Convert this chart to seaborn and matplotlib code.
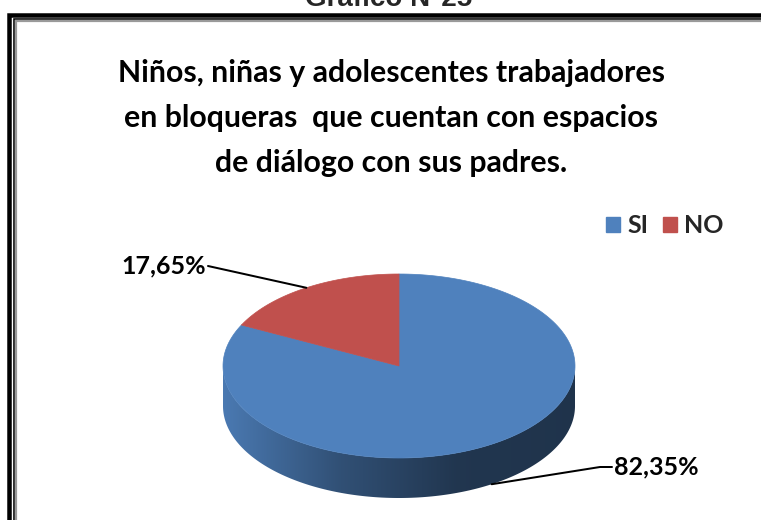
import numpy as np
import matplotlib
matplotlib.use("Agg")
import matplotlib.pyplot as plt
from matplotlib.patches import Polygon, Patch
import seaborn as sns

# Datos del gráfico
categorias = ["SI", "NO"]
porcentajes = [82.35, 17.65]
etiquetas = ["82,35%", "17,65%"]
colores = ["#4F81BD", "#C0504D"]

titulo = ["Niños, niñas y adolescentes trabajadores",
          "en bloqueras  que cuentan con espacios",
          "de diálogo con sus padres."]

sns.set_theme(style="white")
plt.rcParams["font.family"] = ["Lato", "DejaVu Sans"]

W, H = 761, 520
fig = plt.figure(figsize=(W / 100, H / 100), dpi=100)
ax = fig.add_axes([0, 0, 1, 1])
ax.set_xlim(0, W)
ax.set_ylim(H, 0)
ax.axis("off")

px = 0.72  # 1 pixel en puntos

# Marco doble del documento
ax.plot([8.5, 8.5, W + 5], [H + 5, 15, 15], color="black", lw=4.5 * px,
        solid_joinstyle="miter")
ax.plot([14, 14, W + 5], [H + 5, 19, 19], color="black", lw=1.6 * px,
        solid_joinstyle="miter")
ax.plot([16.3, 16.3, W + 5], [H + 5, 21.3, 21.3], color="#9a9a9a", lw=2.2 * px,
        solid_joinstyle="miter")

# Encabezado cortado arriba
ax.text(389, 6, "Gráfico N°25", ha="center", va="baseline", fontsize=20,
        fontweight="bold", family=["Liberation Sans", "DejaVu Sans"])

# Título
for i, linea in enumerate(titulo):
    ax.text(391, 82 + 45 * i, linea, ha="center", va="baseline",
            fontsize=21.8, fontweight="bold", color="black")

# Geometría del pastel 3D
cx, cy, a, b, prof = 399, 366, 176, 92, 40


def borde(t):
    return cx + a * np.cos(t), cy - b * np.sin(t)


frac = np.array(porcentajes) / sum(porcentajes)
limites = np.radians(90 - np.concatenate([[0], np.cumsum(frac) * 360]))

# Lateral (parte frontal visible, toda de la porción SI) con degradado
ts = np.linspace(np.pi, 2 * np.pi, 300)
xs, ys = borde(ts)
lateral = list(zip(xs, ys)) + list(zip(xs[::-1], ys[::-1] + prof))
clip = Polygon(lateral, closed=True, facecolor="none", edgecolor="none")
ax.add_patch(clip)
base = np.array(matplotlib.colors.to_rgb(colores[0]))
grad = np.array(sns.blend_palette([base * 0.94, base * 0.62, base * 0.42,
                                   base * 0.40], 256))
img = ax.imshow(grad[np.newaxis, :, :], extent=(cx - a, cx + a, cy + b + prof, cy - b),
                aspect="auto", interpolation="bilinear", zorder=1)
img.set_clip_path(clip)
ax.set_xlim(0, W)
ax.set_ylim(H, 0)

# Cara superior
for j in range(len(frac)):
    t = np.linspace(limites[j], limites[j + 1], 200)
    ex, ey = borde(t)
    pts = [(cx, cy)] + list(zip(ex, ey))
    ax.add_patch(Polygon(pts, closed=True, facecolor=colores[j],
                         edgecolor=colores[j], lw=0.5, zorder=2))

# Etiquetas con líneas guía
pos_texto = {"SI": (614, 467, "left"), "NO": (206, 266, "right")}
for j, cat in enumerate(categorias):
    tm = (limites[j] + limites[j + 1]) / 2
    xa, ya = borde(tm)
    if np.sin(tm) < 0:
        ya += prof
    tx, ty, ha = pos_texto[cat]
    if ha == "left":
        linea = [(xa, ya), (tx - 14, ty), (tx - 2, ty)]
    else:
        linea = [(xa, ya), (tx + 2, ty)]
    lx, ly = zip(*linea)
    ax.plot(lx, ly, color="black", lw=2 * px, zorder=3)
    ax.text(tx, ty, etiquetas[j], ha=ha, va="center", fontsize=18,
            fontweight="bold", color="black")

# Leyenda
handles = [Patch(facecolor=c, edgecolor=c) for c in colores]
leg = ax.legend(handles, categorias, loc="upper right", ncol=2, frameon=False,
                bbox_to_anchor=(724 / W, 1 - 214 / H), bbox_transform=fig.transFigure,
                prop={"size": 18, "weight": "bold"}, handlelength=0.55,
                handleheight=0.55, handletextpad=0.3, columnspacing=0.6,
                borderaxespad=0, borderpad=0)

fig.savefig("out.png", dpi=100)
